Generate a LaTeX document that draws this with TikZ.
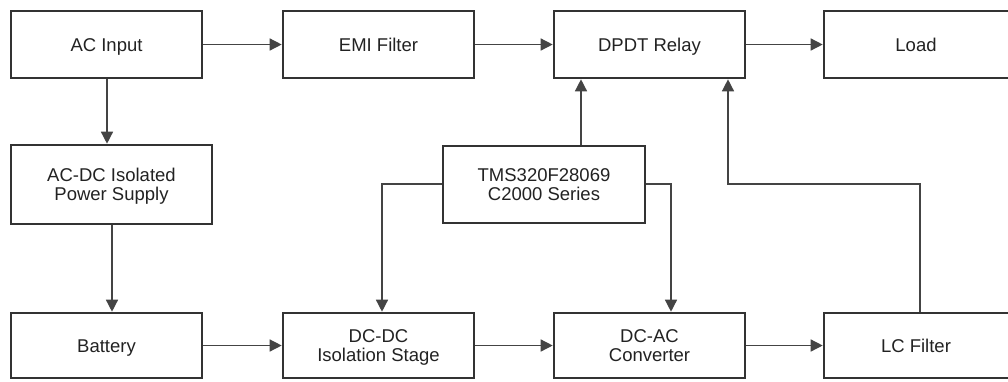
\documentclass[tikz,border=0pt]{standalone}
\usepackage{fontspec}
\setmainfont{Liberation Sans}
\usetikzlibrary{arrows.meta}
\definecolor{boxline}{HTML}{333333}
\definecolor{wire}{HTML}{444444}
\definecolor{txt}{HTML}{222222}
\newcommand{\twoline}[2]{\rule{0pt}{13.3pt}#1\\\smash{#2}}
\begin{document}
\begin{tikzpicture}[x=1pt,y=-1pt,
  blk/.style={draw=boxline,line width=2.6pt,minimum width=#1,minimum height=67pt,inner sep=0pt,
    align=center,text=txt,font=\fontsize{18.5}{19.5}\selectfont},
  blk/.default=191pt,
  one/.style={text height=13.3pt,text depth=0pt},
  arr/.style={draw=wire,line width=1.4pt,-{Triangle[length=12pt,width=12pt]}}]
\useasboundingbox (0,0) rectangle (1008,381);
\node[blk,one] (acin) at (106.5,44.5) {AC Input};
\node[blk,one] (emi) at (378.5,44.5) {EMI Filter};
\node[blk,one] (dpdt) at (649.5,44.5) {DPDT Relay};
\node[blk=220pt,one] (load) at (934,44.5) {\hspace*{-36pt}Load};
\node[blk=201pt,minimum height=79pt] (acdc) at (111.5,184.5) {\twoline{AC-DC Isolated}{Power Supply}};
\node[blk=202pt,minimum height=77pt] (tms) at (544,184.5) {\twoline{TMS320F28069}{C2000 Series}};
\node[blk,one,minimum height=65pt] (bat) at (106.5,345.5) {Battery};
\node[blk,minimum height=65pt] (dcdc) at (378.5,345.5) {\twoline{DC-DC}{Isolation Stage}};
\node[blk,minimum height=65pt] (dcac) at (649.5,345.5) {\twoline{DC-AC}{Converter}};
\node[blk=220pt,one,minimum height=65pt] (lc) at (934,345.5) {\hspace*{-36pt}LC Filter};
\coordinate (c1) at (581,0);
\coordinate (c2) at (728,184);
\coordinate (c3) at (382,184);
\coordinate (c4) at (671,184);
\coordinate (c5) at (107,0);
\coordinate (c6) at (112,0);
\coordinate (c7) at (920,0);
\draw[arr] (acin) -- (emi);
\draw[arr] (emi) -- (dpdt);
\draw[arr] (dpdt) -- (load);
\draw[arr] (bat) -- (dcdc);
\draw[arr] (dcdc) -- (dcac);
\draw[arr] (dcac) -- (lc);
\draw[arr] (acin.south -| c5) -- (acdc.north -| c5);
\draw[arr] (acdc.south -| c6) -- (bat.north -| c6);
\draw[arr] (tms.north -| c1) -- (dpdt.south -| c1);
\draw[arr] (lc.north -| c7) |- (c2) -- (dpdt.south -| c2);
\draw[arr] (tms.west |- c3) -- (c3) -- (dcdc.north -| c3);
\draw[arr] (tms.east |- c4) -- (c4) -- (dcac.north -| c4);
\end{tikzpicture}
\end{document}
